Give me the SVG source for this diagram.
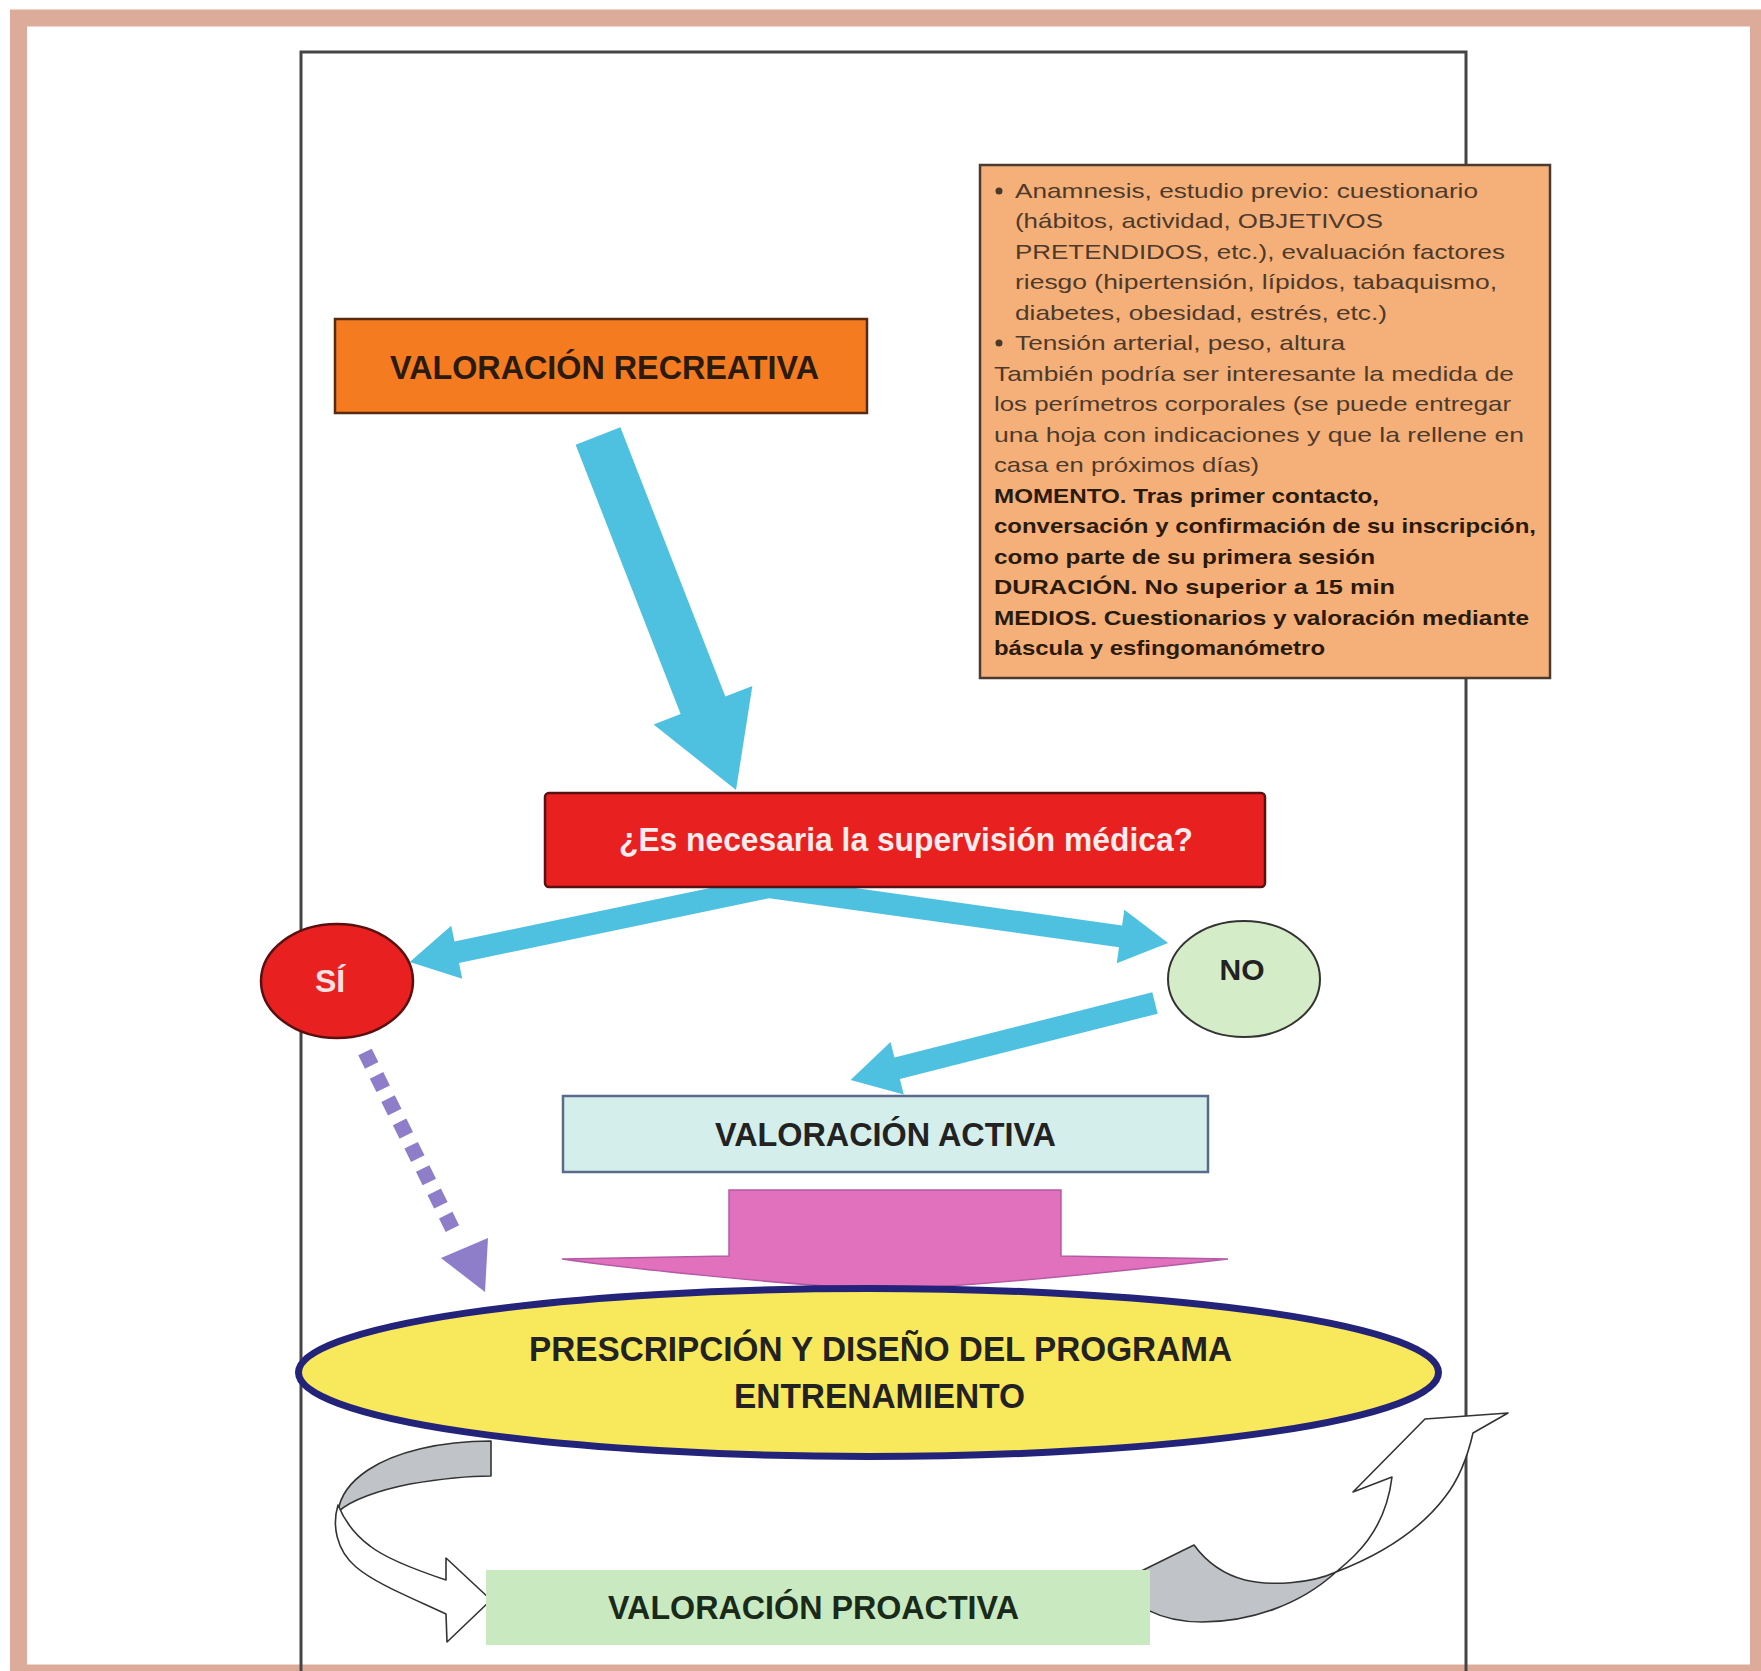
<svg xmlns="http://www.w3.org/2000/svg" width="1761" height="1671" viewBox="0 0 1761 1671">
<defs>
<style>
.t{font-family:"Liberation Sans",Arial,sans-serif}
.b{font-weight:bold}
.info{font-family:"Liberation Sans",Arial,sans-serif;font-size:21px;fill:#4e3a2a}
.infob{font-family:"Liberation Sans",Arial,sans-serif;font-size:21px;font-weight:bold;fill:#2a1a0a}
.blue{fill:#4fc1e0}
.curve{stroke:#333;stroke-width:1.6;stroke-linejoin:round}
</style>
</defs>
<rect width="1761" height="1671" fill="#ffffff"/>
<rect x="18.5" y="18" width="1740" height="1655" fill="none" stroke="#dcab9a" stroke-width="17"/>
<rect id="frame" x="301" y="52" width="1165" height="1640" fill="none" stroke="#444" stroke-width="3"/>

<g id="info-box">
<rect x="980" y="165" width="570" height="513" fill="#f5b07a" stroke="#4a3a30" stroke-width="2.5"/>
<circle cx="999" cy="191" r="3.5" fill="#4a3828"/>
<text class="info" x="1015" y="198" textLength="463" lengthAdjust="spacingAndGlyphs">Anamnesis, estudio previo: cuestionario</text>
<text class="info" x="1015" y="228" textLength="368" lengthAdjust="spacingAndGlyphs">(hábitos, actividad, OBJETIVOS</text>
<text class="info" x="1015" y="259" textLength="490" lengthAdjust="spacingAndGlyphs">PRETENDIDOS, etc.), evaluación factores</text>
<text class="info" x="1015" y="289" textLength="482" lengthAdjust="spacingAndGlyphs">riesgo (hipertensión, lípidos, tabaquismo,</text>
<text class="info" x="1015" y="320" textLength="372" lengthAdjust="spacingAndGlyphs">diabetes, obesidad, estrés, etc.)</text>
<circle cx="999" cy="343" r="3.5" fill="#4a3828"/>
<text class="info" x="1015" y="350" textLength="330" lengthAdjust="spacingAndGlyphs">Tensión arterial, peso, altura</text>
<text class="info" x="994" y="381" textLength="520" lengthAdjust="spacingAndGlyphs">También podría ser interesante la medida de</text>
<text class="info" x="994" y="411" textLength="517" lengthAdjust="spacingAndGlyphs">los perímetros corporales (se puede entregar</text>
<text class="info" x="994" y="442" textLength="530" lengthAdjust="spacingAndGlyphs">una hoja con indicaciones y que la rellene en</text>
<text class="info" x="994" y="472" textLength="265" lengthAdjust="spacingAndGlyphs">casa en próximos días)</text>
<text class="infob" x="994" y="503" textLength="385" lengthAdjust="spacingAndGlyphs">MOMENTO. Tras primer contacto,</text>
<text class="infob" x="994" y="533" textLength="542" lengthAdjust="spacingAndGlyphs">conversación y confirmación de su inscripción,</text>
<text class="infob" x="994" y="564" textLength="381" lengthAdjust="spacingAndGlyphs">como parte de su primera sesión</text>
<text class="infob" x="994" y="594" textLength="401" lengthAdjust="spacingAndGlyphs">DURACIÓN. No superior a 15 min</text>
<text class="infob" x="994" y="625" textLength="535" lengthAdjust="spacingAndGlyphs">MEDIOS. Cuestionarios y valoración mediante</text>
<text class="infob" x="994" y="655" textLength="331" lengthAdjust="spacingAndGlyphs">báscula y esfingomanómetro</text>
</g>

<g id="recreativa">
<rect x="335" y="319" width="532" height="94" fill="#f47b20" stroke="#5a2a10" stroke-width="2.5"/>
<text class="t b" x="390" y="379" font-size="34" fill="#2a1a10" textLength="429" lengthAdjust="spacingAndGlyphs">VALORACIÓN RECREATIVA</text>
</g>

<g id="connectors">
<polygon class="blue" points="-24,0 24,0 24,289 53,289 0,380 -53,289 -24,289" transform="translate(598,436) rotate(-21.3)"/>
<polygon class="blue" points="0,-11 319,-11 319,-27 367,0 319,27 319,11 0,11" transform="translate(769,887) rotate(168.2)"/>
<polygon class="blue" points="0,-11 355,-11 355,-27 403,0 355,27 355,11 0,11" transform="translate(769,887) rotate(8)"/>
<polygon class="blue" points="0,-11 266,-11 266,-27 314,0 266,27 266,11 0,11" transform="translate(1155,1003) rotate(165.8)"/>
<line x1="365" y1="1052" x2="452.4" y2="1228.6" stroke="#8e7dc8" stroke-width="15" stroke-dasharray="15 11"/>
<polygon points="441,1258 488,1238 485,1292" fill="#8e7dc8"/>
<path d="M729,1190 H1061 V1256 L1228,1259 C1150,1268 1000,1284 887,1290 C775,1284 625,1268 562,1259 L729,1256 Z" fill="#e171bd" stroke="#b45aa5" stroke-width="1.5"/>
<path class="curve" d="M491,1441 C440,1441 395,1452 368,1470 C350,1482 340,1495 338,1512 C350,1500 380,1490 410,1484 C440,1479 470,1476 491,1476 Z" fill="#c0c4c8"/>
<path class="curve" d="M338,1505 C332,1525 336,1550 356,1567 C375,1583 405,1595 446,1614 L447,1642 L491,1600 L446,1558 L446,1580 C410,1568 385,1558 370,1546 C355,1535 345,1522 338,1505 Z" fill="#ffffff"/>
<path class="curve" d="M1194,1545 L1119,1582 C1130,1605 1160,1622 1202,1622 C1250,1622 1300,1605 1336,1572 C1310,1584 1270,1586 1245,1580 C1222,1574 1205,1560 1194,1545 Z" fill="#c0c4c8"/>
<path class="curve" d="M1336,1572 C1380,1555 1420,1530 1445,1497 C1460,1478 1468,1455 1473,1433 L1508,1413 L1425,1419 L1353,1492 L1392,1477 C1388,1510 1375,1535 1355,1555 C1348,1562 1342,1567 1336,1572 Z" fill="#ffffff"/>
</g>

<g id="supervision">
<rect x="545" y="793" width="720" height="94" rx="4" fill="#e8201f" stroke="#5a1010" stroke-width="2.5"/>
<text class="t b" x="619" y="851" font-size="33" fill="#f8ecec" textLength="574" lengthAdjust="spacingAndGlyphs">¿Es necesaria la supervisión médica?</text>
</g>

<g id="si">
<ellipse cx="337" cy="981" rx="76" ry="57" fill="#e8201f" stroke="#5a1010" stroke-width="2.5"/>
<text class="t b" x="330" y="992" font-size="32" fill="#f8e0e0" text-anchor="middle">SÍ</text>
</g>

<g id="no">
<ellipse cx="1244" cy="979" rx="76" ry="58" fill="#d5ecc8" stroke="#333" stroke-width="2"/>
<text class="t b" x="1242" y="980" font-size="30" fill="#222" text-anchor="middle">NO</text>
</g>

<g id="activa">
<rect x="563" y="1096" width="645" height="76" fill="#d4eeec" stroke="#5a6a8a" stroke-width="2.5"/>
<text class="t b" x="715" y="1146" font-size="33" fill="#222" textLength="341" lengthAdjust="spacingAndGlyphs">VALORACIÓN ACTIVA</text>
</g>

<g id="prescripcion">
<ellipse cx="868.5" cy="1372.5" rx="570" ry="84" fill="#f8e85c" stroke="#23237a" stroke-width="7"/>
<text class="t b" x="529" y="1361" font-size="35" fill="#222" textLength="703" lengthAdjust="spacingAndGlyphs">PRESCRIPCIÓN Y DISEÑO DEL PROGRAMA</text>
<text class="t b" x="734" y="1408" font-size="35" fill="#222" textLength="291" lengthAdjust="spacingAndGlyphs">ENTRENAMIENTO</text>
</g>

<g id="proactiva">
<rect x="486" y="1570" width="664" height="75" fill="#c9eac0"/>
<text class="t b" x="608" y="1619" font-size="33" fill="#1a2a1a" textLength="411" lengthAdjust="spacingAndGlyphs">VALORACIÓN PROACTIVA</text>
</g>
</svg>
